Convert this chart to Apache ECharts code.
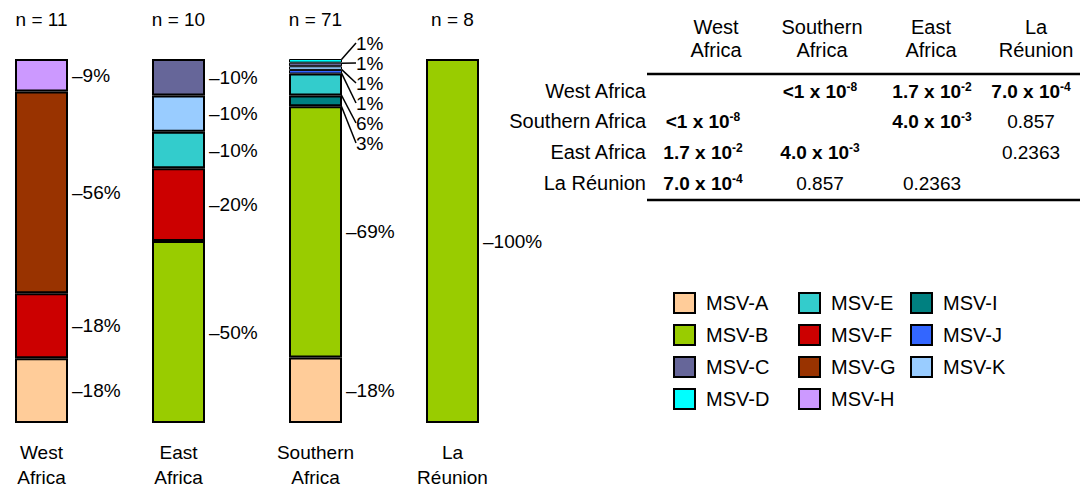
<!DOCTYPE html>
<html>
<head>
<meta charset="utf-8">
<script src="https://cdn.jsdelivr.net/npm/echarts@6/dist/echarts.min.js"></script>
<style>
  html, body { margin: 0; padding: 0; background: #fff; }
  #chart { width: 1084px; height: 490px; }
</style>
</head>
<body>
<div id="chart"></div>
<script>
// Regions (bar categories) and sample sizes shown above each bar
const regions = ['West\nAfrica', 'East\nAfrica', 'Southern\nAfrica', 'La\nRéunion'];
const sampleSizes = ['n = 11', 'n = 10', 'n = 71', 'n = 8'];

// Strain frequency (%) per region, in region order above
const msvA = [18, 0, 18, 0];
const msvB = [0, 50, 69, 100];
const msvC = [0, 10, 1, 0];
const msvD = [0, 0, 1, 0];
const msvE = [0, 10, 6, 0];
const msvF = [18, 20, 0, 0];
const msvG = [56, 0, 0, 0];
const msvH = [9, 0, 0, 0];
const msvI = [0, 0, 3, 0];
const msvJ = [0, 0, 1, 0];
const msvK = [0, 10, 1, 0];

// Pairwise comparison table
const tableCols = ['West\nAfrica', 'Southern\nAfrica', 'East\nAfrica', 'La\nRéunion'];
const tableRows = ['West Africa', 'Southern Africa', 'East Africa', 'La Réunion'];
const pValues = [
  [null, '<1 x 10^-8', '1.7 x 10^-2', '7.0 x 10^-4'],
  ['<1 x 10^-8', null, '4.0 x 10^-3', '0.857'],
  ['1.7 x 10^-2', '4.0 x 10^-3', null, '0.2363'],
  ['7.0 x 10^-4', '0.857', '0.2363', null]
];

const strains = {
  'MSV-A': { values: msvA, color: '#FFCC99' },
  'MSV-B': { values: msvB, color: '#99CC00' },
  'MSV-C': { values: msvC, color: '#666699' },
  'MSV-D': { values: msvD, color: '#00FFFF' },
  'MSV-E': { values: msvE, color: '#33CCCC' },
  'MSV-F': { values: msvF, color: '#CC0000' },
  'MSV-G': { values: msvG, color: '#993300' },
  'MSV-H': { values: msvH, color: '#CC99FF' },
  'MSV-I': { values: msvI, color: '#008080' },
  'MSV-J': { values: msvJ, color: '#3366FF' },
  'MSV-K': { values: msvK, color: '#99CCFF' }
};

// Bottom-to-top stacking order of the segments
const stackOrder = ['MSV-A', 'MSV-B', 'MSV-F', 'MSV-G', 'MSV-H', 'MSV-I', 'MSV-E', 'MSV-J', 'MSV-K', 'MSV-C', 'MSV-D'];
const legendCols = [
  ['MSV-A', 'MSV-B', 'MSV-C', 'MSV-D'],
  ['MSV-E', 'MSV-F', 'MSV-G', 'MSV-H'],
  ['MSV-I', 'MSV-J', 'MSV-K']
];

const FONT = '"Liberation Sans", Arial, Helvetica, sans-serif';
const SMALL = 8; // segments below this share get a leader line

const totals = regions.map((_, r) => stackOrder.reduce((s, k) => s + strains[k].values[r], 0));

// Leader-lined labels for each region, listed from top to bottom
function leaderList(r) {
  return stackOrder.slice().reverse().filter(k => {
    const v = strains[k].values[r];
    return v > 0 && v < SMALL;
  });
}

const chart = echarts.init(document.getElementById('chart'), null, { renderer: 'svg' });

const series = stackOrder.map(name => {
  const vals = strains[name].values;
  return {
    name: name,
    type: 'bar',
    stack: 'total',
    barWidth: 53,
    xAxisIndex: 0,
    itemStyle: { color: strains[name].color, borderColor: '#000', borderWidth: 2 },
    label: {
      show: true,
      position: 'right',
      distance: 4,
      color: '#000',
      fontFamily: FONT,
      fontSize: 19,
      formatter: p => {
        const v = vals[p.dataIndex];
        if (!v) return '';
        const lead = leaderList(p.dataIndex).indexOf(name) >= 0;
        return (lead ? '' : '–') + v + '%';
      }
    },
    labelLine: { lineStyle: { color: '#000', width: 1.5 } },
    data: vals.map((v, r) => {
      const lead = v > 0 && v < SMALL;
      const item = {
        value: v > 0 ? v * 100 / totals[r] : '-',
        labelLine: { show: lead }
      };
      if (lead) {
        // a wide transparent box keeps the guide line on the label's left side
        item.label = { padding: [0, 34, 0, 0], backgroundColor: 'rgba(255,255,255,0)' };
        if (v < 2) item.itemStyle = { borderWidth: 1 };
      }
      return item;
    })
  };
});

// Table text, built from the row/column arrays
function cellRich(s) {
  const m = s.match(/^(.*) x 10\^(-?\d+)$/);
  if (m) return '{b|' + m[1] + ' x 10}{s|' + m[2] + '}';
  return '{n|' + s + '}';
}
const rich = {
  b: { fontFamily: FONT, fontSize: 19, fontWeight: 'bold', fill: '#000', lineHeight: 20 },
  s: { fontFamily: FONT, fontSize: 12, fontWeight: 'bold', fill: '#000', lineHeight: 12, verticalAlign: 'top' },
  n: { fontFamily: FONT, fontSize: 19, fill: '#000', lineHeight: 20 }
};
const headX = [716, 822, 931, 1036];
const cellX = [703, 820, 932, 1031];
const rowY = [91, 121, 152, 183];
const graphics = [];
tableCols.forEach((c, i) => {
  graphics.push({
    type: 'text', x: headX[i], y: 38,
    style: { text: c, align: 'center', verticalAlign: 'middle', fontFamily: FONT, fontSize: 20, lineHeight: 23, fill: '#000' }
  });
});
tableRows.forEach((rname, r) => {
  graphics.push({
    type: 'text', x: 646, y: rowY[r],
    style: { text: rname, align: 'right', verticalAlign: 'middle', fontFamily: FONT, fontSize: 20, fill: '#000' }
  });
  pValues[r].forEach((v, c) => {
    if (v == null) return;
    graphics.push({
      type: 'text', x: cellX[c], y: rowY[r],
      style: { text: cellRich(v), rich: rich, align: 'center', verticalAlign: 'middle' }
    });
  });
});
graphics.push({ type: 'line', shape: { x1: 647, y1: 74, x2: 1080, y2: 74 }, style: { stroke: '#000', lineWidth: 2.5 } });
graphics.push({ type: 'line', shape: { x1: 647, y1: 200, x2: 1080, y2: 200 }, style: { stroke: '#000', lineWidth: 2.5 } });

const option = {
  animation: false,
  backgroundColor: '#fff',
  grid: { left: -27, top: 59, width: 548, height: 364, containLabel: false, outerBoundsMode: 'none' },
  xAxis: [
    {
      type: 'category', data: regions, position: 'bottom',
      axisLine: { show: false }, axisTick: { show: false },
      axisLabel: { color: '#000', fontFamily: FONT, fontSize: 19, lineHeight: 25, margin: 17, interval: 0 }
    },
    {
      type: 'category', data: sampleSizes, position: 'top',
      axisLine: { show: false }, axisTick: { show: false },
      axisLabel: { color: '#000', fontFamily: FONT, fontSize: 19, margin: 30, interval: 0 }
    }
  ],
  yAxis: { type: 'value', min: 0, max: 100, show: false },
  legend: legendCols.map((col, i) => ({
    data: col,
    orient: 'vertical',
    left: [668, 793, 905][i],
    top: 287,
    icon: 'rect',
    itemWidth: 21,
    itemHeight: 20,
    itemGap: 10,
    selectedMode: false,
    textStyle: { color: '#000', fontFamily: FONT, fontSize: 20, padding: [0, 0, 0, 6] }
  })),
  labelLayout: p => {
    const r = p.dataIndex;
    const name = stackOrder[p.seriesIndex];
    const k = leaderList(r).indexOf(name);
    if (k < 0) return;
    const top = chart.convertToPixel({ yAxisIndex: 0 }, 100);
    return {
      x: p.rect.x + p.rect.width + 14,
      y: top - 16 + k * 20,
      align: 'left',
      verticalAlign: 'middle'
    };
  },
  graphic: graphics,
  series: series
};

chart.setOption(option);
</script>
</body>
</html>
